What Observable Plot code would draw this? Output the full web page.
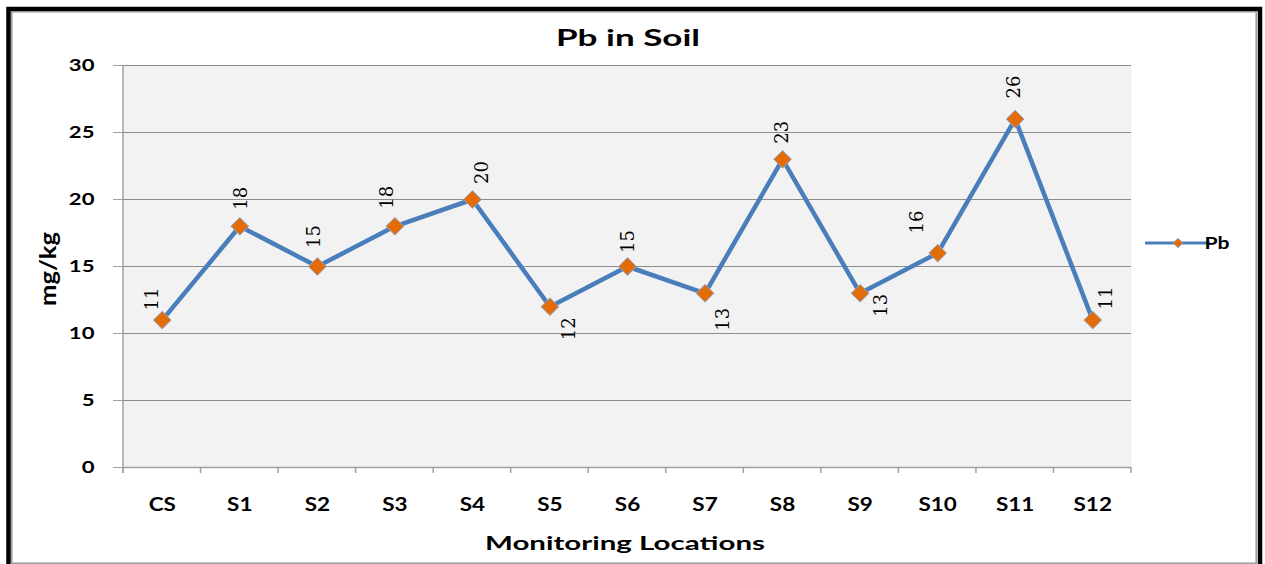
<!DOCTYPE html>
<html><head><meta charset="utf-8">
<script src="https://cdn.jsdelivr.net/npm/d3@7"></script>
<script src="https://cdn.jsdelivr.net/npm/@observablehq/plot@0.6"></script>
<style>
html,body{margin:0;padding:0;background:#fff;}
#chart{position:relative;width:1265px;height:564px;overflow:hidden;}
#chart svg{display:block;}
</style></head><body><div id="chart"></div>
<script>
// ---- data ----
const locations = ["CS","S1","S2","S3","S4","S5","S6","S7","S8","S9","S10","S11","S12"];
const pbValues = [11,18,15,18,20,12,15,13,23,13,16,26,11];
const yTicks = [0,5,10,15,20,25,30];
const seriesName = "Pb";
const chartTitle = "Pb in Soil";
const xTitle = "Monitoring Locations";
const yTitle = "mg/kg";

const data = locations.map((loc, i) => ({loc, value: pbValues[i]}));

// label placement offsets (screen px from the marker), as in the reference
const labelOffsets = [[-10,-21],[1,-28],[-3,-30],[-8,-29],[10,-27],[19,22],[1,-25],[18,26],[0,-27],[21,12],[-20,-31],[-1,-32],[14,-22]];

const W = 1265, H = 564;
const lineColor = "#4a7ebb", markerColor = "#e36c09", gridColor = "#8c8c8c", axisColor = "#a0a0a0";
const sansFont = "Lato, 'Open Sans', sans-serif";

const chart = Plot.plot({
  width: W, height: H,
  marginLeft: 123, marginRight: 134, marginTop: 65, marginBottom: 97,
  style: {background: "transparent", fontFamily: sansFont, color: "#000", overflow: "visible"},
  x: {type: "point", domain: locations, padding: 0.5, round: false, label: null},
  y: {domain: [0, 30], label: null},
  marks: [
    Plot.frame({fill: "#f2f2f2", stroke: "none"}),
    Plot.gridY(yTicks, {stroke: gridColor, strokeOpacity: 1, strokeWidth: 1}),
    Plot.axisY(yTicks, {tickSize: 10, tickPadding: 19, stroke: axisColor, fontSize: 17, fontWeight: "bold", fill: "#000", label: null}),
    Plot.axisX({tickSize: 0, tickPadding: 31, fontSize: 18, fontWeight: "bold", fill: "#000", label: null}),
    Plot.ruleY([0], {stroke: axisColor, strokeWidth: 1.5}),
    Plot.line(data, {x: "loc", y: "value", stroke: lineColor, strokeWidth: 4.5}),
    Plot.dot(data, {x: "loc", y: "value", symbol: "diamond2", r: 8, fill: markerColor, stroke: "#8ea9cf", strokeWidth: 1}),
    ...data.map((d, i) => Plot.text([d], {
      x: "loc", y: "value", text: (d) => String(d.value),
      rotate: -90, textAnchor: "middle", lineAnchor: "middle",
      dx: labelOffsets[i][0], dy: labelOffsets[i][1],
      fontFamily: "'DejaVu Serif', serif", fontSize: 18, fill: "#000"
    }))
  ]
});

document.getElementById("chart").appendChild(chart);
const svg = d3.select(chart);

// stretch axis tick labels horizontally (as in reference)
function stretch(sel, k) {
  sel.each(function () {
    const len = this.getComputedTextLength();
    this.setAttribute("textLength", len * k);
    this.setAttribute("lengthAdjust", "spacingAndGlyphs");
  });
}
stretch(svg.selectAll('g[aria-label="y-axis tick label"] text'), 1.3);
stretch(svg.selectAll('g[aria-label="x-axis tick label"] text'), 1.25);

// scales for decorations
const xs = chart.scale("x"), ys = chart.scale("y");
const [x0, x1] = xs.range;
const yBottom = ys.apply(0), yTop = ys.apply(30);
const step = (x1 - x0) / locations.length;

const deco = svg.append("g");
// left axis line
deco.append("line").attr("x1", x0).attr("x2", x0).attr("y1", yTop).attr("y2", yBottom + 6)
  .attr("stroke", axisColor).attr("stroke-width", 1.5);
// category boundary ticks
d3.range(locations.length + 1).forEach(i => {
  const x = x0 + i * step;
  deco.append("line").attr("x1", x).attr("x2", x).attr("y1", yBottom).attr("y2", yBottom + 6)
    .attr("stroke", axisColor).attr("stroke-width", 1.5);
});

// title
const cx = (x0 + x1) / 2;
deco.append("text").attr("x", cx + 1).attr("y", 46).attr("text-anchor", "middle")
  .attr("font-family", sansFont).attr("font-weight", "bold").attr("font-size", 23)
  .attr("textLength", 144).attr("lengthAdjust", "spacingAndGlyphs").text(chartTitle);
// x title
deco.append("text").attr("x", cx - 2).attr("y", 550).attr("text-anchor", "middle")
  .attr("font-family", sansFont).attr("font-weight", "bold").attr("font-size", 18)
  .attr("textLength", 280).attr("lengthAdjust", "spacingAndGlyphs").text(xTitle);
// y title
deco.append("text").attr("transform", "translate(56,269) rotate(-90)").attr("text-anchor", "middle")
  .attr("font-family", sansFont).attr("font-weight", "bold").attr("font-size", 22)
  .attr("textLength", 74).attr("lengthAdjust", "spacingAndGlyphs").text(yTitle);

// legend
const ly = 243;
deco.append("line").attr("x1", 1145).attr("x2", 1210).attr("y1", ly).attr("y2", ly)
  .attr("stroke", lineColor).attr("stroke-width", 3);
deco.append("path").attr("d", d3.symbol(d3.symbolDiamond2, 60)()).attr("transform", `translate(1178,${ly})`)
  .attr("fill", markerColor).attr("stroke", "#8ea9cf").attr("stroke-width", 0.8);
deco.append("text").attr("x", 1217).attr("y", ly + 6).attr("font-family", sansFont)
  .attr("font-weight", "bold").attr("font-size", 17).attr("textLength", 25)
  .attr("lengthAdjust", "spacingAndGlyphs").text(seriesName);

// outer border
deco.append("rect").attr("x", 8.5).attr("y", 9).attr("width", 1251.5).attr("height", 620)
  .attr("fill", "none").attr("stroke", "#000").attr("stroke-width", 4.5);
deco.append("rect").attr("x", 11.8).attr("y", 11.8).attr("width", 1244.4).attr("height", 551.4)
  .attr("fill", "none").attr("stroke", "#9a9a9a").attr("stroke-width", 1.5);
</script>
</body></html>
